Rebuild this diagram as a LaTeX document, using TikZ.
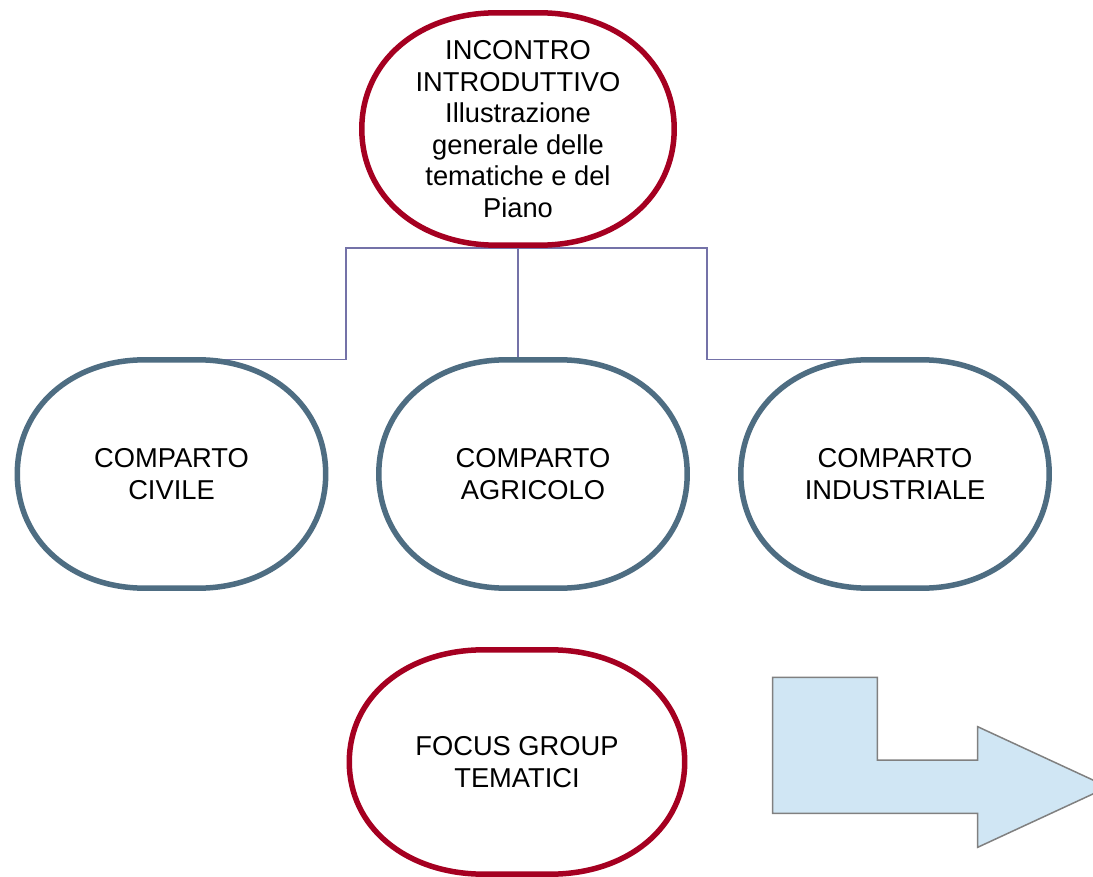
\documentclass[tikz,border=0pt]{standalone}
\usepackage{fontspec}
\setmainfont{Liberation Sans}
\usetikzlibrary{calc}
\definecolor{redb}{HTML}{A50021}
\definecolor{blueb}{HTML}{4E6D82}
\definecolor{connc}{HTML}{7472A8}
\definecolor{arrfill}{HTML}{D0E6F4}
\definecolor{arrline}{HTML}{808080}
\tikzset{
  boxbase/.style={rectangle, draw=none, inner sep=0pt, align=center,
    font=\fontsize{27.3}{31.5}\selectfont},
  conn/.style={draw=connc, line width=1.3pt},
  outline/.style={line width=5.5pt},
  bentarrow/.style={fill=arrfill, draw=arrline, line width=1.5pt, line join=miter},
}
% #1 node, #2 colour, #3 rx, #4 ry
\newcommand\softoutline[4]{%
  \draw[outline, draw=#2] let \p1=(#1.north west), \p2=(#1.south east) in
    (\x1+#3,\y1) -- (\x2-#3,\y1)
    .. controls (\x2-0.42*#3,\y1) and (\x2,\y1-0.42*#4) .. (\x2,\y1-#4)
    -- (\x2,\y2+#4)
    .. controls (\x2,\y2+0.42*#4) and (\x2-0.42*#3,\y2) .. (\x2-#3,\y2)
    -- (\x1+#3,\y2)
    .. controls (\x1+0.42*#3,\y2) and (\x1,\y2+0.42*#4) .. (\x1,\y2+#4)
    -- (\x1,\y1-#4)
    .. controls (\x1,\y1-0.42*#4) and (\x1+0.42*#3,\y1) .. cycle;}
\begin{document}
\begin{tikzpicture}[x=1pt,y=-1pt]
\clip (0,0) rectangle (1093,877);
\fill[white] (0,0) rectangle (1093,877);

\node[boxbase, minimum width=312pt, minimum height=232pt] (top) at (518,129)
  {INCONTRO\\INTRODUTTIVO\\Illustrazione\\generale delle\\tematiche e del\\Piano};
\node[boxbase, minimum width=308pt, minimum height=228pt] (civ) at (171.5,474)
  {COMPARTO\\CIVILE};
\node[boxbase, minimum width=308pt, minimum height=228pt] (agr) at (533,474)
  {COMPARTO\\AGRICOLO};
\node[boxbase, minimum width=308pt, minimum height=228pt] (ind) at (895,474)
  {COMPARTO\\INDUSTRIALE};
\node[boxbase, minimum width=335pt, minimum height=224pt] (foc) at (517,762)
  {FOCUS GROUP\\TEMATICI};

% connectors
\coordinate (jl) at (346,248);
\coordinate (jr) at (707,248);
\draw[conn] (civ.north) -| (jl) -- (jr) |- (ind.north);
\draw[conn] (top.south) -- (top.south |- agr.north);

% outlines
\softoutline{top}{redb}{135pt}{116pt}
\softoutline{civ}{blueb}{128pt}{114pt}
\softoutline{agr}{blueb}{128pt}{114pt}
\softoutline{ind}{blueb}{128pt}{114pt}
\softoutline{foc}{redb}{135pt}{112pt}

% bent arrow
\filldraw[bentarrow] (772.7,677.3) -- (877.3,677.3) -- (877.3,760) -- (977.7,760)
  -- (977.7,726.7) -- (1108,787) -- (977.7,847.3) -- (977.7,813.3)
  -- (772.7,813.3) -- cycle;
\end{tikzpicture}
\end{document}
